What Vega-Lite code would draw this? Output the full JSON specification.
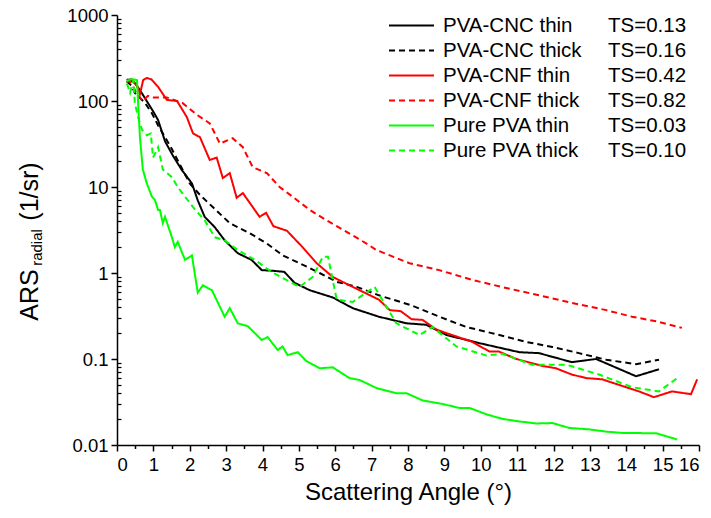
{
"$schema": "https://vega.github.io/schema/vega-lite/v6.json",
"width": 582, "height": 430,
"autosize": {"type": "none"},
"padding": {"left": 117, "top": 15, "right": 12, "bottom": 73},
"background": "white",
"config": {
  "view": {"stroke": null},
  "font": "Liberation Sans",
  "axis": {"grid": false, "domainColor": "black", "domainWidth": 1.5, "tickColor": "black", "tickWidth": 1.5, "labelColor": "black", "titleColor": "black", "labelFont": "Liberation Sans", "titleFont": "Liberation Sans", "titleFontWeight": "normal"},
  "legend": {"orient": "none", "legendY": -2, "padding": 0, "title": null, "symbolType": "M-2,0H2", "symbolSize": 506, "symbolStrokeWidth": 2, "labelFontSize": 20.5, "labelFont": "Liberation Sans", "labelColor": "black", "labelOffset": 19, "rowPadding": 2, "labelLimit": 400}
},
"datasets": {"curves": [
{"series":"PVA-CNC thin","ts":"TS=0.13","angle":0.27,"ars":175},{"series":"PVA-CNC thin","ts":"TS=0.13","angle":0.36,"ars":178},{"series":"PVA-CNC thin","ts":"TS=0.13","angle":0.5,"ars":160},{"series":"PVA-CNC thin","ts":"TS=0.13","angle":0.65,"ars":130},{"series":"PVA-CNC thin","ts":"TS=0.13","angle":0.85,"ars":95},{"series":"PVA-CNC thin","ts":"TS=0.13","angle":1.0,"ars":75},{"series":"PVA-CNC thin","ts":"TS=0.13","angle":1.13,"ars":60},{"series":"PVA-CNC thin","ts":"TS=0.13","angle":1.32,"ars":34},{"series":"PVA-CNC thin","ts":"TS=0.13","angle":1.54,"ars":23},{"series":"PVA-CNC thin","ts":"TS=0.13","angle":1.78,"ars":15.8},{"series":"PVA-CNC thin","ts":"TS=0.13","angle":2.06,"ars":11},{"series":"PVA-CNC thin","ts":"TS=0.13","angle":2.22,"ars":7},{"series":"PVA-CNC thin","ts":"TS=0.13","angle":2.41,"ars":4.5},{"series":"PVA-CNC thin","ts":"TS=0.13","angle":2.69,"ars":3.4},{"series":"PVA-CNC thin","ts":"TS=0.13","angle":2.96,"ars":2.4},{"series":"PVA-CNC thin","ts":"TS=0.13","angle":3.32,"ars":1.7},{"series":"PVA-CNC thin","ts":"TS=0.13","angle":3.7,"ars":1.42},{"series":"PVA-CNC thin","ts":"TS=0.13","angle":3.98,"ars":1.08},{"series":"PVA-CNC thin","ts":"TS=0.13","angle":4.3,"ars":1.06},{"series":"PVA-CNC thin","ts":"TS=0.13","angle":4.6,"ars":1.03},{"series":"PVA-CNC thin","ts":"TS=0.13","angle":4.88,"ars":0.77},{"series":"PVA-CNC thin","ts":"TS=0.13","angle":5.3,"ars":0.63},{"series":"PVA-CNC thin","ts":"TS=0.13","angle":5.93,"ars":0.52},{"series":"PVA-CNC thin","ts":"TS=0.13","angle":6.48,"ars":0.39},{"series":"PVA-CNC thin","ts":"TS=0.13","angle":7.2,"ars":0.31},{"series":"PVA-CNC thin","ts":"TS=0.13","angle":7.96,"ars":0.26},{"series":"PVA-CNC thin","ts":"TS=0.13","angle":8.5,"ars":0.25},{"series":"PVA-CNC thin","ts":"TS=0.13","angle":9.06,"ars":0.19},{"series":"PVA-CNC thin","ts":"TS=0.13","angle":9.96,"ars":0.153},{"series":"PVA-CNC thin","ts":"TS=0.13","angle":11.06,"ars":0.12},{"series":"PVA-CNC thin","ts":"TS=0.13","angle":11.6,"ars":0.117},{"series":"PVA-CNC thin","ts":"TS=0.13","angle":12.5,"ars":0.092},{"series":"PVA-CNC thin","ts":"TS=0.13","angle":13.17,"ars":0.1},{"series":"PVA-CNC thin","ts":"TS=0.13","angle":14.27,"ars":0.063},{"series":"PVA-CNC thin","ts":"TS=0.13","angle":14.9,"ars":0.076},
{"series":"PVA-CNC thick","ts":"TS=0.16","angle":0.27,"ars":170},{"series":"PVA-CNC thick","ts":"TS=0.16","angle":0.4,"ars":150},{"series":"PVA-CNC thick","ts":"TS=0.16","angle":0.49,"ars":124},{"series":"PVA-CNC thick","ts":"TS=0.16","angle":0.77,"ars":95},{"series":"PVA-CNC thick","ts":"TS=0.16","angle":0.96,"ars":72},{"series":"PVA-CNC thick","ts":"TS=0.16","angle":1.13,"ars":52},{"series":"PVA-CNC thick","ts":"TS=0.16","angle":1.32,"ars":38},{"series":"PVA-CNC thick","ts":"TS=0.16","angle":1.5,"ars":28},{"series":"PVA-CNC thick","ts":"TS=0.16","angle":1.8,"ars":16},{"series":"PVA-CNC thick","ts":"TS=0.16","angle":2.0,"ars":11},{"series":"PVA-CNC thick","ts":"TS=0.16","angle":2.28,"ars":8.1},{"series":"PVA-CNC thick","ts":"TS=0.16","angle":2.64,"ars":5.8},{"series":"PVA-CNC thick","ts":"TS=0.16","angle":3.1,"ars":3.8},{"series":"PVA-CNC thick","ts":"TS=0.16","angle":3.65,"ars":2.9},{"series":"PVA-CNC thick","ts":"TS=0.16","angle":4.12,"ars":2.2},{"series":"PVA-CNC thick","ts":"TS=0.16","angle":4.56,"ars":1.6},{"series":"PVA-CNC thick","ts":"TS=0.16","angle":5.02,"ars":1.3},{"series":"PVA-CNC thick","ts":"TS=0.16","angle":5.57,"ars":1.0},{"series":"PVA-CNC thick","ts":"TS=0.16","angle":6.04,"ars":0.79},{"series":"PVA-CNC thick","ts":"TS=0.16","angle":6.59,"ars":0.69},{"series":"PVA-CNC thick","ts":"TS=0.16","angle":7.2,"ars":0.55},{"series":"PVA-CNC thick","ts":"TS=0.16","angle":8.1,"ars":0.42},{"series":"PVA-CNC thick","ts":"TS=0.16","angle":8.86,"ars":0.31},{"series":"PVA-CNC thick","ts":"TS=0.16","angle":9.6,"ars":0.236},{"series":"PVA-CNC thick","ts":"TS=0.16","angle":10.3,"ars":0.2},{"series":"PVA-CNC thick","ts":"TS=0.16","angle":11.25,"ars":0.158},{"series":"PVA-CNC thick","ts":"TS=0.16","angle":11.97,"ars":0.138},{"series":"PVA-CNC thick","ts":"TS=0.16","angle":12.7,"ars":0.117},{"series":"PVA-CNC thick","ts":"TS=0.16","angle":13.45,"ars":0.098},{"series":"PVA-CNC thick","ts":"TS=0.16","angle":14.27,"ars":0.087},{"series":"PVA-CNC thick","ts":"TS=0.16","angle":14.9,"ars":0.098},
{"series":"PVA-CNF thin","ts":"TS=0.42","angle":0.27,"ars":165},{"series":"PVA-CNF thin","ts":"TS=0.42","angle":0.4,"ars":180},{"series":"PVA-CNF thin","ts":"TS=0.42","angle":0.55,"ars":150},{"series":"PVA-CNF thin","ts":"TS=0.42","angle":0.63,"ars":120},{"series":"PVA-CNF thin","ts":"TS=0.42","angle":0.72,"ars":175},{"series":"PVA-CNF thin","ts":"TS=0.42","angle":0.82,"ars":185},{"series":"PVA-CNF thin","ts":"TS=0.42","angle":0.95,"ars":178},{"series":"PVA-CNF thin","ts":"TS=0.42","angle":1.13,"ars":146},{"series":"PVA-CNF thin","ts":"TS=0.42","angle":1.37,"ars":103},{"series":"PVA-CNF thin","ts":"TS=0.42","angle":1.65,"ars":100},{"series":"PVA-CNF thin","ts":"TS=0.42","angle":1.92,"ars":65},{"series":"PVA-CNF thin","ts":"TS=0.42","angle":2.09,"ars":42},{"series":"PVA-CNF thin","ts":"TS=0.42","angle":2.28,"ars":38},{"series":"PVA-CNF thin","ts":"TS=0.42","angle":2.55,"ars":20.6},{"series":"PVA-CNF thin","ts":"TS=0.42","angle":2.74,"ars":22},{"series":"PVA-CNF thin","ts":"TS=0.42","angle":2.91,"ars":12.7},{"series":"PVA-CNF thin","ts":"TS=0.42","angle":3.1,"ars":14.5},{"series":"PVA-CNF thin","ts":"TS=0.42","angle":3.29,"ars":7.5},{"series":"PVA-CNF thin","ts":"TS=0.42","angle":3.46,"ars":8.5},{"series":"PVA-CNF thin","ts":"TS=0.42","angle":3.92,"ars":4.5},{"series":"PVA-CNF thin","ts":"TS=0.42","angle":4.1,"ars":5.0},{"series":"PVA-CNF thin","ts":"TS=0.42","angle":4.3,"ars":3.5},{"series":"PVA-CNF thin","ts":"TS=0.42","angle":4.67,"ars":3.1},{"series":"PVA-CNF thin","ts":"TS=0.42","angle":5.1,"ars":2.0},{"series":"PVA-CNF thin","ts":"TS=0.42","angle":5.49,"ars":1.3},{"series":"PVA-CNF thin","ts":"TS=0.42","angle":5.93,"ars":0.9},{"series":"PVA-CNF thin","ts":"TS=0.42","angle":6.39,"ars":0.72},{"series":"PVA-CNF thin","ts":"TS=0.42","angle":6.67,"ars":0.63},{"series":"PVA-CNF thin","ts":"TS=0.42","angle":7.2,"ars":0.49},{"series":"PVA-CNF thin","ts":"TS=0.42","angle":7.5,"ars":0.37},{"series":"PVA-CNF thin","ts":"TS=0.42","angle":7.8,"ars":0.36},{"series":"PVA-CNF thin","ts":"TS=0.42","angle":8.1,"ars":0.29},{"series":"PVA-CNF thin","ts":"TS=0.42","angle":8.4,"ars":0.285},{"series":"PVA-CNF thin","ts":"TS=0.42","angle":8.78,"ars":0.22},{"series":"PVA-CNF thin","ts":"TS=0.42","angle":9.06,"ars":0.2},{"series":"PVA-CNF thin","ts":"TS=0.42","angle":9.77,"ars":0.158},{"series":"PVA-CNF thin","ts":"TS=0.42","angle":10.24,"ars":0.122},{"series":"PVA-CNF thin","ts":"TS=0.42","angle":10.5,"ars":0.122},{"series":"PVA-CNF thin","ts":"TS=0.42","angle":10.98,"ars":0.1},{"series":"PVA-CNF thin","ts":"TS=0.42","angle":11.7,"ars":0.083},{"series":"PVA-CNF thin","ts":"TS=0.42","angle":12.07,"ars":0.078},{"series":"PVA-CNF thin","ts":"TS=0.42","angle":12.5,"ars":0.066},{"series":"PVA-CNF thin","ts":"TS=0.42","angle":12.9,"ars":0.06},{"series":"PVA-CNF thin","ts":"TS=0.42","angle":13.34,"ars":0.058},{"series":"PVA-CNF thin","ts":"TS=0.42","angle":13.8,"ars":0.05},{"series":"PVA-CNF thin","ts":"TS=0.42","angle":14.35,"ars":0.042},{"series":"PVA-CNF thin","ts":"TS=0.42","angle":14.76,"ars":0.036},{"series":"PVA-CNF thin","ts":"TS=0.42","angle":15.26,"ars":0.042},{"series":"PVA-CNF thin","ts":"TS=0.42","angle":15.78,"ars":0.039},{"series":"PVA-CNF thin","ts":"TS=0.42","angle":15.95,"ars":0.058},
{"series":"PVA-CNF thick","ts":"TS=0.82","angle":0.27,"ars":180},{"series":"PVA-CNF thick","ts":"TS=0.82","angle":0.4,"ars":160},{"series":"PVA-CNF thick","ts":"TS=0.82","angle":0.55,"ars":120},{"series":"PVA-CNF thick","ts":"TS=0.82","angle":0.71,"ars":100},{"series":"PVA-CNF thick","ts":"TS=0.82","angle":0.85,"ars":115},{"series":"PVA-CNF thick","ts":"TS=0.82","angle":1.0,"ars":110},{"series":"PVA-CNF thick","ts":"TS=0.82","angle":1.37,"ars":110},{"series":"PVA-CNF thick","ts":"TS=0.82","angle":1.8,"ars":95},{"series":"PVA-CNF thick","ts":"TS=0.82","angle":2.2,"ars":69},{"series":"PVA-CNF thick","ts":"TS=0.82","angle":2.55,"ars":55},{"series":"PVA-CNF thick","ts":"TS=0.82","angle":2.83,"ars":32},{"series":"PVA-CNF thick","ts":"TS=0.82","angle":3.18,"ars":37},{"series":"PVA-CNF thick","ts":"TS=0.82","angle":3.46,"ars":29},{"series":"PVA-CNF thick","ts":"TS=0.82","angle":3.73,"ars":17},{"series":"PVA-CNF thick","ts":"TS=0.82","angle":4.12,"ars":14.5},{"series":"PVA-CNF thick","ts":"TS=0.82","angle":4.47,"ars":10},{"series":"PVA-CNF thick","ts":"TS=0.82","angle":4.83,"ars":7.7},{"series":"PVA-CNF thick","ts":"TS=0.82","angle":5.3,"ars":5.4},{"series":"PVA-CNF thick","ts":"TS=0.82","angle":5.76,"ars":4.1},{"series":"PVA-CNF thick","ts":"TS=0.82","angle":6.2,"ars":3.2},{"series":"PVA-CNF thick","ts":"TS=0.82","angle":6.86,"ars":2.2},{"series":"PVA-CNF thick","ts":"TS=0.82","angle":7.13,"ars":1.85},{"series":"PVA-CNF thick","ts":"TS=0.82","angle":8.04,"ars":1.3},{"series":"PVA-CNF thick","ts":"TS=0.82","angle":8.86,"ars":1.08},{"series":"PVA-CNF thick","ts":"TS=0.82","angle":9.77,"ars":0.83},{"series":"PVA-CNF thick","ts":"TS=0.82","angle":10.7,"ars":0.67},{"series":"PVA-CNF thick","ts":"TS=0.82","angle":11.6,"ars":0.55},{"series":"PVA-CNF thick","ts":"TS=0.82","angle":12.5,"ars":0.45},{"series":"PVA-CNF thick","ts":"TS=0.82","angle":13.45,"ars":0.37},{"series":"PVA-CNF thick","ts":"TS=0.82","angle":14.16,"ars":0.31},{"series":"PVA-CNF thick","ts":"TS=0.82","angle":14.9,"ars":0.27},{"series":"PVA-CNF thick","ts":"TS=0.82","angle":15.53,"ars":0.23},
{"series":"Pure PVA thin","ts":"TS=0.03","angle":0.27,"ars":170},{"series":"Pure PVA thin","ts":"TS=0.03","angle":0.4,"ars":180},{"series":"Pure PVA thin","ts":"TS=0.03","angle":0.55,"ars":175},{"series":"Pure PVA thin","ts":"TS=0.03","angle":0.58,"ars":95},{"series":"Pure PVA thin","ts":"TS=0.03","angle":0.63,"ars":38},{"series":"Pure PVA thin","ts":"TS=0.03","angle":0.71,"ars":16},{"series":"Pure PVA thin","ts":"TS=0.03","angle":0.82,"ars":11},{"series":"Pure PVA thin","ts":"TS=0.03","angle":0.96,"ars":7.7},{"series":"Pure PVA thin","ts":"TS=0.03","angle":1.04,"ars":7.1},{"series":"Pure PVA thin","ts":"TS=0.03","angle":1.13,"ars":5.4},{"series":"Pure PVA thin","ts":"TS=0.03","angle":1.18,"ars":5.4},{"series":"Pure PVA thin","ts":"TS=0.03","angle":1.26,"ars":3.8},{"series":"Pure PVA thin","ts":"TS=0.03","angle":1.32,"ars":4.5},{"series":"Pure PVA thin","ts":"TS=0.03","angle":1.51,"ars":2.6},{"series":"Pure PVA thin","ts":"TS=0.03","angle":1.59,"ars":2.0},{"series":"Pure PVA thin","ts":"TS=0.03","angle":1.67,"ars":2.3},{"series":"Pure PVA thin","ts":"TS=0.03","angle":1.87,"ars":1.42},{"series":"Pure PVA thin","ts":"TS=0.03","angle":2.06,"ars":1.6},{"series":"Pure PVA thin","ts":"TS=0.03","angle":2.22,"ars":0.59},{"series":"Pure PVA thin","ts":"TS=0.03","angle":2.36,"ars":0.72},{"series":"Pure PVA thin","ts":"TS=0.03","angle":2.61,"ars":0.63},{"series":"Pure PVA thin","ts":"TS=0.03","angle":2.96,"ars":0.31},{"series":"Pure PVA thin","ts":"TS=0.03","angle":3.1,"ars":0.39},{"series":"Pure PVA thin","ts":"TS=0.03","angle":3.32,"ars":0.26},{"series":"Pure PVA thin","ts":"TS=0.03","angle":3.6,"ars":0.24},{"series":"Pure PVA thin","ts":"TS=0.03","angle":3.98,"ars":0.166},{"series":"Pure PVA thin","ts":"TS=0.03","angle":4.14,"ars":0.18},{"series":"Pure PVA thin","ts":"TS=0.03","angle":4.42,"ars":0.127},{"series":"Pure PVA thin","ts":"TS=0.03","angle":4.55,"ars":0.14},{"series":"Pure PVA thin","ts":"TS=0.03","angle":4.69,"ars":0.111},{"series":"Pure PVA thin","ts":"TS=0.03","angle":4.97,"ars":0.12},{"series":"Pure PVA thin","ts":"TS=0.03","angle":5.2,"ars":0.095},{"series":"Pure PVA thin","ts":"TS=0.03","angle":5.57,"ars":0.078},{"series":"Pure PVA thin","ts":"TS=0.03","angle":5.93,"ars":0.08},{"series":"Pure PVA thin","ts":"TS=0.03","angle":6.39,"ars":0.06},{"series":"Pure PVA thin","ts":"TS=0.03","angle":6.67,"ars":0.057},{"series":"Pure PVA thin","ts":"TS=0.03","angle":7.13,"ars":0.046},{"series":"Pure PVA thin","ts":"TS=0.03","angle":7.68,"ars":0.04},{"series":"Pure PVA thin","ts":"TS=0.03","angle":7.96,"ars":0.04},{"series":"Pure PVA thin","ts":"TS=0.03","angle":8.4,"ars":0.033},{"series":"Pure PVA thin","ts":"TS=0.03","angle":8.95,"ars":0.03},{"series":"Pure PVA thin","ts":"TS=0.03","angle":9.41,"ars":0.027},{"series":"Pure PVA thin","ts":"TS=0.03","angle":9.69,"ars":0.027},{"series":"Pure PVA thin","ts":"TS=0.03","angle":10.15,"ars":0.0228},{"series":"Pure PVA thin","ts":"TS=0.03","angle":10.6,"ars":0.0201},{"series":"Pure PVA thin","ts":"TS=0.03","angle":11.06,"ars":0.0188},{"series":"Pure PVA thin","ts":"TS=0.03","angle":11.53,"ars":0.0178},{"series":"Pure PVA thin","ts":"TS=0.03","angle":11.97,"ars":0.018},{"series":"Pure PVA thin","ts":"TS=0.03","angle":12.43,"ars":0.0158},{"series":"Pure PVA thin","ts":"TS=0.03","angle":12.98,"ars":0.0152},{"series":"Pure PVA thin","ts":"TS=0.03","angle":13.45,"ars":0.0143},{"series":"Pure PVA thin","ts":"TS=0.03","angle":13.9,"ars":0.0138},{"series":"Pure PVA thin","ts":"TS=0.03","angle":14.82,"ars":0.0137},{"series":"Pure PVA thin","ts":"TS=0.03","angle":15.4,"ars":0.0116},
{"series":"Pure PVA thick","ts":"TS=0.10","angle":0.27,"ars":160},{"series":"Pure PVA thick","ts":"TS=0.10","angle":0.36,"ars":124},{"series":"Pure PVA thick","ts":"TS=0.10","angle":0.45,"ars":175},{"series":"Pure PVA thick","ts":"TS=0.10","angle":0.49,"ars":95},{"series":"Pure PVA thick","ts":"TS=0.10","angle":0.58,"ars":65},{"series":"Pure PVA thick","ts":"TS=0.10","angle":0.69,"ars":46},{"series":"Pure PVA thick","ts":"TS=0.10","angle":0.82,"ars":40},{"series":"Pure PVA thick","ts":"TS=0.10","angle":0.93,"ars":42},{"series":"Pure PVA thick","ts":"TS=0.10","angle":0.99,"ars":22},{"series":"Pure PVA thick","ts":"TS=0.10","angle":1.13,"ars":29},{"series":"Pure PVA thick","ts":"TS=0.10","angle":1.26,"ars":16},{"series":"Pure PVA thick","ts":"TS=0.10","angle":1.51,"ars":13},{"series":"Pure PVA thick","ts":"TS=0.10","angle":1.67,"ars":10},{"series":"Pure PVA thick","ts":"TS=0.10","angle":1.87,"ars":7.7},{"series":"Pure PVA thick","ts":"TS=0.10","angle":2.14,"ars":5.5},{"series":"Pure PVA thick","ts":"TS=0.10","angle":2.41,"ars":4.1},{"series":"Pure PVA thick","ts":"TS=0.10","angle":2.69,"ars":2.6},{"series":"Pure PVA thick","ts":"TS=0.10","angle":2.96,"ars":2.4},{"series":"Pure PVA thick","ts":"TS=0.10","angle":3.32,"ars":1.85},{"series":"Pure PVA thick","ts":"TS=0.10","angle":3.79,"ars":1.42},{"series":"Pure PVA thick","ts":"TS=0.10","angle":4.25,"ars":1.03},{"series":"Pure PVA thick","ts":"TS=0.10","angle":4.8,"ars":0.77},{"series":"Pure PVA thick","ts":"TS=0.10","angle":5.02,"ars":0.69},{"series":"Pure PVA thick","ts":"TS=0.10","angle":5.38,"ars":0.9},{"series":"Pure PVA thick","ts":"TS=0.10","angle":5.66,"ars":1.55},{"series":"Pure PVA thick","ts":"TS=0.10","angle":5.8,"ars":1.55},{"series":"Pure PVA thick","ts":"TS=0.10","angle":6.04,"ars":0.49},{"series":"Pure PVA thick","ts":"TS=0.10","angle":6.48,"ars":0.46},{"series":"Pure PVA thick","ts":"TS=0.10","angle":7.08,"ars":0.69},{"series":"Pure PVA thick","ts":"TS=0.10","angle":7.68,"ars":0.26},{"series":"Pure PVA thick","ts":"TS=0.10","angle":8.32,"ars":0.19},{"series":"Pure PVA thick","ts":"TS=0.10","angle":8.67,"ars":0.236},{"series":"Pure PVA thick","ts":"TS=0.10","angle":9.33,"ars":0.14},{"series":"Pure PVA thick","ts":"TS=0.10","angle":10.15,"ars":0.11},{"series":"Pure PVA thick","ts":"TS=0.10","angle":10.6,"ars":0.115},{"series":"Pure PVA thick","ts":"TS=0.10","angle":11.4,"ars":0.086},{"series":"Pure PVA thick","ts":"TS=0.10","angle":12.35,"ars":0.086},{"series":"Pure PVA thick","ts":"TS=0.10","angle":13.25,"ars":0.066},{"series":"Pure PVA thick","ts":"TS=0.10","angle":14.16,"ars":0.047},{"series":"Pure PVA thick","ts":"TS=0.10","angle":14.9,"ars":0.042},{"series":"Pure PVA thick","ts":"TS=0.10","angle":15.45,"ars":0.062}
]},
"data": {"name": "curves"},
"layer": [
  {
    "mark": {"type": "line", "strokeWidth": 2, "clip": true},
    "encoding": {
      "x": {"field": "angle", "type": "quantitative", "scale": {"domain": [0, 16], "nice": false, "zero": false},
        "axis": {"values": [0,1,2,3,4,5,6,7,8,9,10,11,12,13,14,15,16], "tickSize": 6, "labelFontSize": 18.5, "labelPadding": 4, "title": "Scattering Angle (°)", "titleFontSize": 24, "titlePadding": 7}},
      "y": {"field": "ars", "type": "quantitative", "scale": {"type": "log", "domain": [0.01, 1000], "nice": false},
        "axis": {"values": [0.01, 0.1, 1, 10, 100, 1000], "format": "~g", "tickSize": 6, "labelFontSize": 18.5, "labelPadding": 3, "title": "ARS\u00a0\u00a0\u00a0\u00a0\u00a0\u00a0\u00a0(1/sr)", "titleFontSize": 25, "titleX": -80, "titleY": 226, "titleBaseline": "alphabetic"}},
      "color": {"field": "series", "type": "nominal",
        "scale": {"domain": ["PVA-CNC thin", "PVA-CNC thick", "PVA-CNF thin", "PVA-CNF thick", "Pure PVA thin", "Pure PVA thick"], "range": ["#000000", "#000000", "#ff0000", "#ff0000", "#00ff00", "#00ff00"]},
        "legend": {"legendX": 282}},
      "strokeDash": {"field": "series", "type": "nominal",
        "scale": {"domain": ["PVA-CNC thin", "PVA-CNC thick", "PVA-CNF thin", "PVA-CNF thick", "Pure PVA thin", "Pure PVA thick"], "range": [[1, 0], [6, 4], [1, 0], [6, 4], [1, 0], [6, 4]]},
        "legend": {"legendX": 282}},
      "opacity": {"field": "ts", "type": "nominal",
        "scale": {"type": "point", "domain": ["TS=0.13", "TS=0.16", "TS=0.42", "TS=0.82", "TS=0.03", "TS=0.10"], "range": [1, 1]},
        "legend": {"legendX": 447, "symbolStrokeColor": "transparent", "symbolFillColor": "transparent"}}
    }
  },
  {
    "mark": {"type": "line", "opacity": 0},
    "encoding": {
      "x": {"field": "angle", "type": "quantitative", "scale": {"domain": [0, 16], "nice": false, "zero": false},
        "axis": {"orient": "bottom", "values": [0.5,1.5,2.5,3.5,4.5,5.5,6.5,7.5,8.5,9.5,10.5,11.5,12.5,13.5,14.5,15.5], "labels": false, "domain": false, "tickSize": 3.5, "title": null}},
      "y": {"field": "ars", "type": "quantitative", "scale": {"type": "log", "domain": [0.01, 1000], "nice": false},
        "axis": {"orient": "left", "values": [0.02,0.03,0.04,0.05,0.06,0.07,0.08,0.09,0.2,0.3,0.4,0.5,0.6,0.7,0.8,0.9,2,3,4,5,6,7,8,9,20,30,40,50,60,70,80,90,200,300,400,500,600,700,800,900], "labels": false, "domain": false, "tickSize": -4, "tickWidth": 1.2, "title": "radial", "titleFontSize": 15, "titleX": -76, "titleY": 232, "titleBaseline": "alphabetic"}},
      "detail": {"field": "series", "type": "nominal"}
    }
  }
],
"resolve": {"axis": {"x": "independent", "y": "independent"}}
}
